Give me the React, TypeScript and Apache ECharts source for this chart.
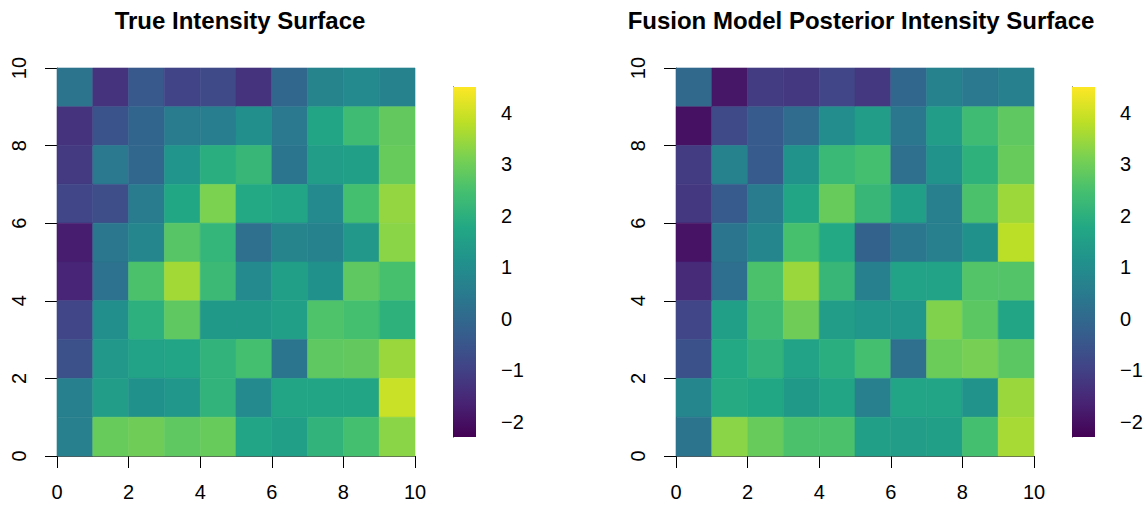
import React, { useEffect, useRef } from "react";
import * as echarts from "echarts";

const xCells = [0, 1, 2, 3, 4, 5, 6, 7, 8, 9];
const yCells = [0, 1, 2, 3, 4, 5, 6, 7, 8, 9];

// rows listed from y=9 (top) down to y=0 (bottom), columns x=0..9
const trueRows: number[][] = [
  [0.3, -1.3, -0.4, -0.95, -0.8, -1.3, -0.05, 0.75, 0.9, 0.7],
  [-1.3, -0.55, -0.1, 0.5, 0.55, 1.05, 0.45, 1.7, 2.35, 2.85],
  [-1.15, 0.45, -0.05, 1.2, 1.95, 2.2, 0.35, 1.45, 1.55, 2.9],
  [-0.9, -0.7, 0.5, 1.75, 3.15, 1.8, 1.65, 0.9, 2.45, 3.4],
  [-1.75, 0.4, 0.8, 2.7, 2.15, 0.2, 0.75, 0.72, 1.3, 3.3],
  [-1.6, 0.25, 2.55, 3.55, 2.3, 0.9, 1.55, 1.1, 2.8, 2.5],
  [-0.9, 1.05, 2.0, 2.8, 1.35, 1.35, 1.5, 2.6, 2.45, 2.05],
  [-0.65, 1.3, 1.6, 1.65, 2.1, 2.45, 0.35, 2.8, 2.85, 3.45],
  [0.65, 1.45, 1.1, 1.25, 2.1, 0.9, 1.7, 1.7, 1.7, 3.95],
  [0.6, 2.9, 3.0, 2.8, 2.9, 1.65, 1.5, 2.1, 2.45, 3.3],
];

const fusionRows: number[][] = [
  [0.0, -1.9, -1.1, -1.2, -0.9, -1.2, -0.05, 0.7, 0.45, 0.65],
  [-2.0, -0.8, -0.35, 0.1, 1.0, 1.45, 0.4, 1.45, 2.35, 2.8],
  [-1.1, 0.7, -0.35, 1.15, 2.25, 2.45, 0.2, 1.15, 2.05, 2.9],
  [-1.2, -0.35, 0.5, 1.7, 2.9, 2.2, 1.5, 0.6, 2.55, 3.5],
  [-1.95, 0.35, 0.8, 2.5, 1.8, -0.15, 0.4, 0.6, 1.1, 3.8],
  [-1.5, 0.15, 2.55, 3.45, 2.2, 0.65, 1.6, 1.6, 2.65, 2.65],
  [-0.9, 1.55, 2.35, 3.0, 1.45, 1.25, 1.25, 3.2, 2.75, 1.7],
  [-0.6, 1.8, 2.1, 1.6, 1.95, 2.45, 0.2, 2.95, 3.1, 2.75],
  [0.8, 1.85, 1.75, 1.35, 1.7, 0.6, 1.65, 1.65, 1.15, 3.45],
  [0.3, 3.3, 2.9, 2.55, 2.55, 1.55, 1.45, 1.5, 2.45, 3.6],
];

const axisTicks = [0, 2, 4, 6, 8, 10];
const colorTicks = [-2, -1, 0, 1, 2, 3, 4];
const zMin = -2.3;
const zMax = 4.5;
const viridis = [
  "#440154", "#482475", "#414487", "#355f8d", "#2a788e", "#21918c",
  "#22a884", "#44bf70", "#7ad151", "#bddf26", "#fde725",
];

const titles = ["True Intensity Surface", "Fusion Model Posterior Intensity Surface"];

function toData(rows: number[][]) {
  const out: number[][] = [];
  rows.forEach((row, ri) => {
    const y = yCells[yCells.length - 1 - ri];
    row.forEach((v, ci) => out.push([xCells[ci], y, v]));
  });
  return out;
}

const FONT = "'Liberation Sans', Arial, Helvetica, sans-serif";

export default function App() {
  const ref = useRef<HTMLDivElement>(null);
  useEffect(() => {
    document.body.style.margin = "0";
    const chart = echarts.init(ref.current!, null, { renderer: "svg" });

    const cellRender = (params: any, api: any) => {
      const x = api.value(0);
      const y = api.value(1);
      const p0 = api.coord([x, y + 1]);
      const p1 = api.coord([x + 1, y]);
      const c = api.visual("color");
      return {
        type: "rect",
        shape: { x: p0[0], y: p0[1], width: p1[0] - p0[0], height: p1[1] - p0[1] },
        style: { fill: c, stroke: c, lineWidth: 0.6 },
      };
    };

    const barRender = (params: any, api: any) => {
      const p0 = api.coord([0, zMax]);
      const p1 = api.coord([1, zMin]);
      return {
        type: "rect",
        shape: { x: p0[0], y: p0[1], width: p1[0] - p0[0], height: p1[1] - p0[1] },
        style: {
          fill: {
            type: "linear",
            x: 0, y: 1, x2: 0, y2: 0,
            colorStops: viridis.map((c, i) => ({ offset: i / (viridis.length - 1), color: c })),
          },
        },
      };
    };

    const plotLefts = [57, 676];
    const barLefts = [453, 1072];
    const titleCenters = [235, 856];

    const grids: any[] = [];
    const xAxes: any[] = [];
    const yAxes: any[] = [];
    const series: any[] = [];

    [0, 1].forEach((k) => {
      grids.push({ left: plotLefts[k], top: 68, width: 358, height: 388 });
      xAxes.push({
        type: "value", gridIndex: k, min: 0, max: 10, interval: 2,
        splitLine: { show: false },
        axisLine: { show: true, lineStyle: { color: "#555", width: 1 } },
        axisTick: { show: true, length: 12, lineStyle: { color: "#000" } },
        axisLabel: { fontSize: 20, color: "#000", fontFamily: FONT, margin: 26 },
      });
      yAxes.push({
        type: "value", gridIndex: k, min: 0, max: 10, interval: 2,
        splitLine: { show: false },
        axisLine: { show: true, lineStyle: { color: "#555", width: 1 } },
        axisTick: { show: true, length: 12, lineStyle: { color: "#000" } },
        axisLabel: { fontSize: 20, color: "#000", fontFamily: FONT, margin: 28, rotate: 90 },
      });
    });
    [0, 1].forEach((k) => {
      grids.push({ left: barLefts[k], top: 87, width: 23, height: 350 });
      xAxes.push({ type: "value", gridIndex: 2 + k, min: 0, max: 1, show: false });
      yAxes.push({
        type: "value", gridIndex: 2 + k, min: zMin, max: zMax, position: "right",
        splitLine: { show: false },
        axisLine: { show: true, lineStyle: { color: "#000", width: 1 } },
        axisTick: { show: true, length: 12, inside: false, customValues: colorTicks, lineStyle: { color: "#000" } },
        axisLabel: {
          fontSize: 20, color: "#000", fontFamily: FONT, margin: 25,
          customValues: colorTicks,
          formatter: (v: number) => String(v).replace("-", "\u2212"),
        },
      });
    });

    series.push({
      type: "custom", xAxisIndex: 0, yAxisIndex: 0, renderItem: cellRender,
      data: toData(trueRows), encode: { x: 0, y: 1 },
    });
    series.push({
      type: "custom", xAxisIndex: 1, yAxisIndex: 1, renderItem: cellRender,
      data: toData(fusionRows), encode: { x: 0, y: 1 },
    });
    [0, 1].forEach((k) => {
      series.push({
        type: "custom", xAxisIndex: 2 + k, yAxisIndex: 2 + k, renderItem: barRender,
        data: [[0, zMin]], encode: { x: 0, y: 1 }, silent: true,
      });
    });

    chart.setOption({
      animation: false,
      backgroundColor: "#fff",
      title: titles.map((t, k) => ({
        text: t, left: titleCenters[k], top: 3, textAlign: "center",
        textStyle: { fontSize: 24, fontWeight: "bold", color: "#000", fontFamily: FONT },
      })),
      visualMap: {
        show: false, type: "continuous", min: zMin, max: zMax, dimension: 2,
        seriesIndex: [0, 1], inRange: { color: viridis },
      },
      grid: grids,
      xAxis: xAxes,
      yAxis: yAxes,
      series,
    });
    return () => chart.dispose();
  }, []);
  return <div ref={ref} style={{ width: 1146, height: 507 }} />;
}
